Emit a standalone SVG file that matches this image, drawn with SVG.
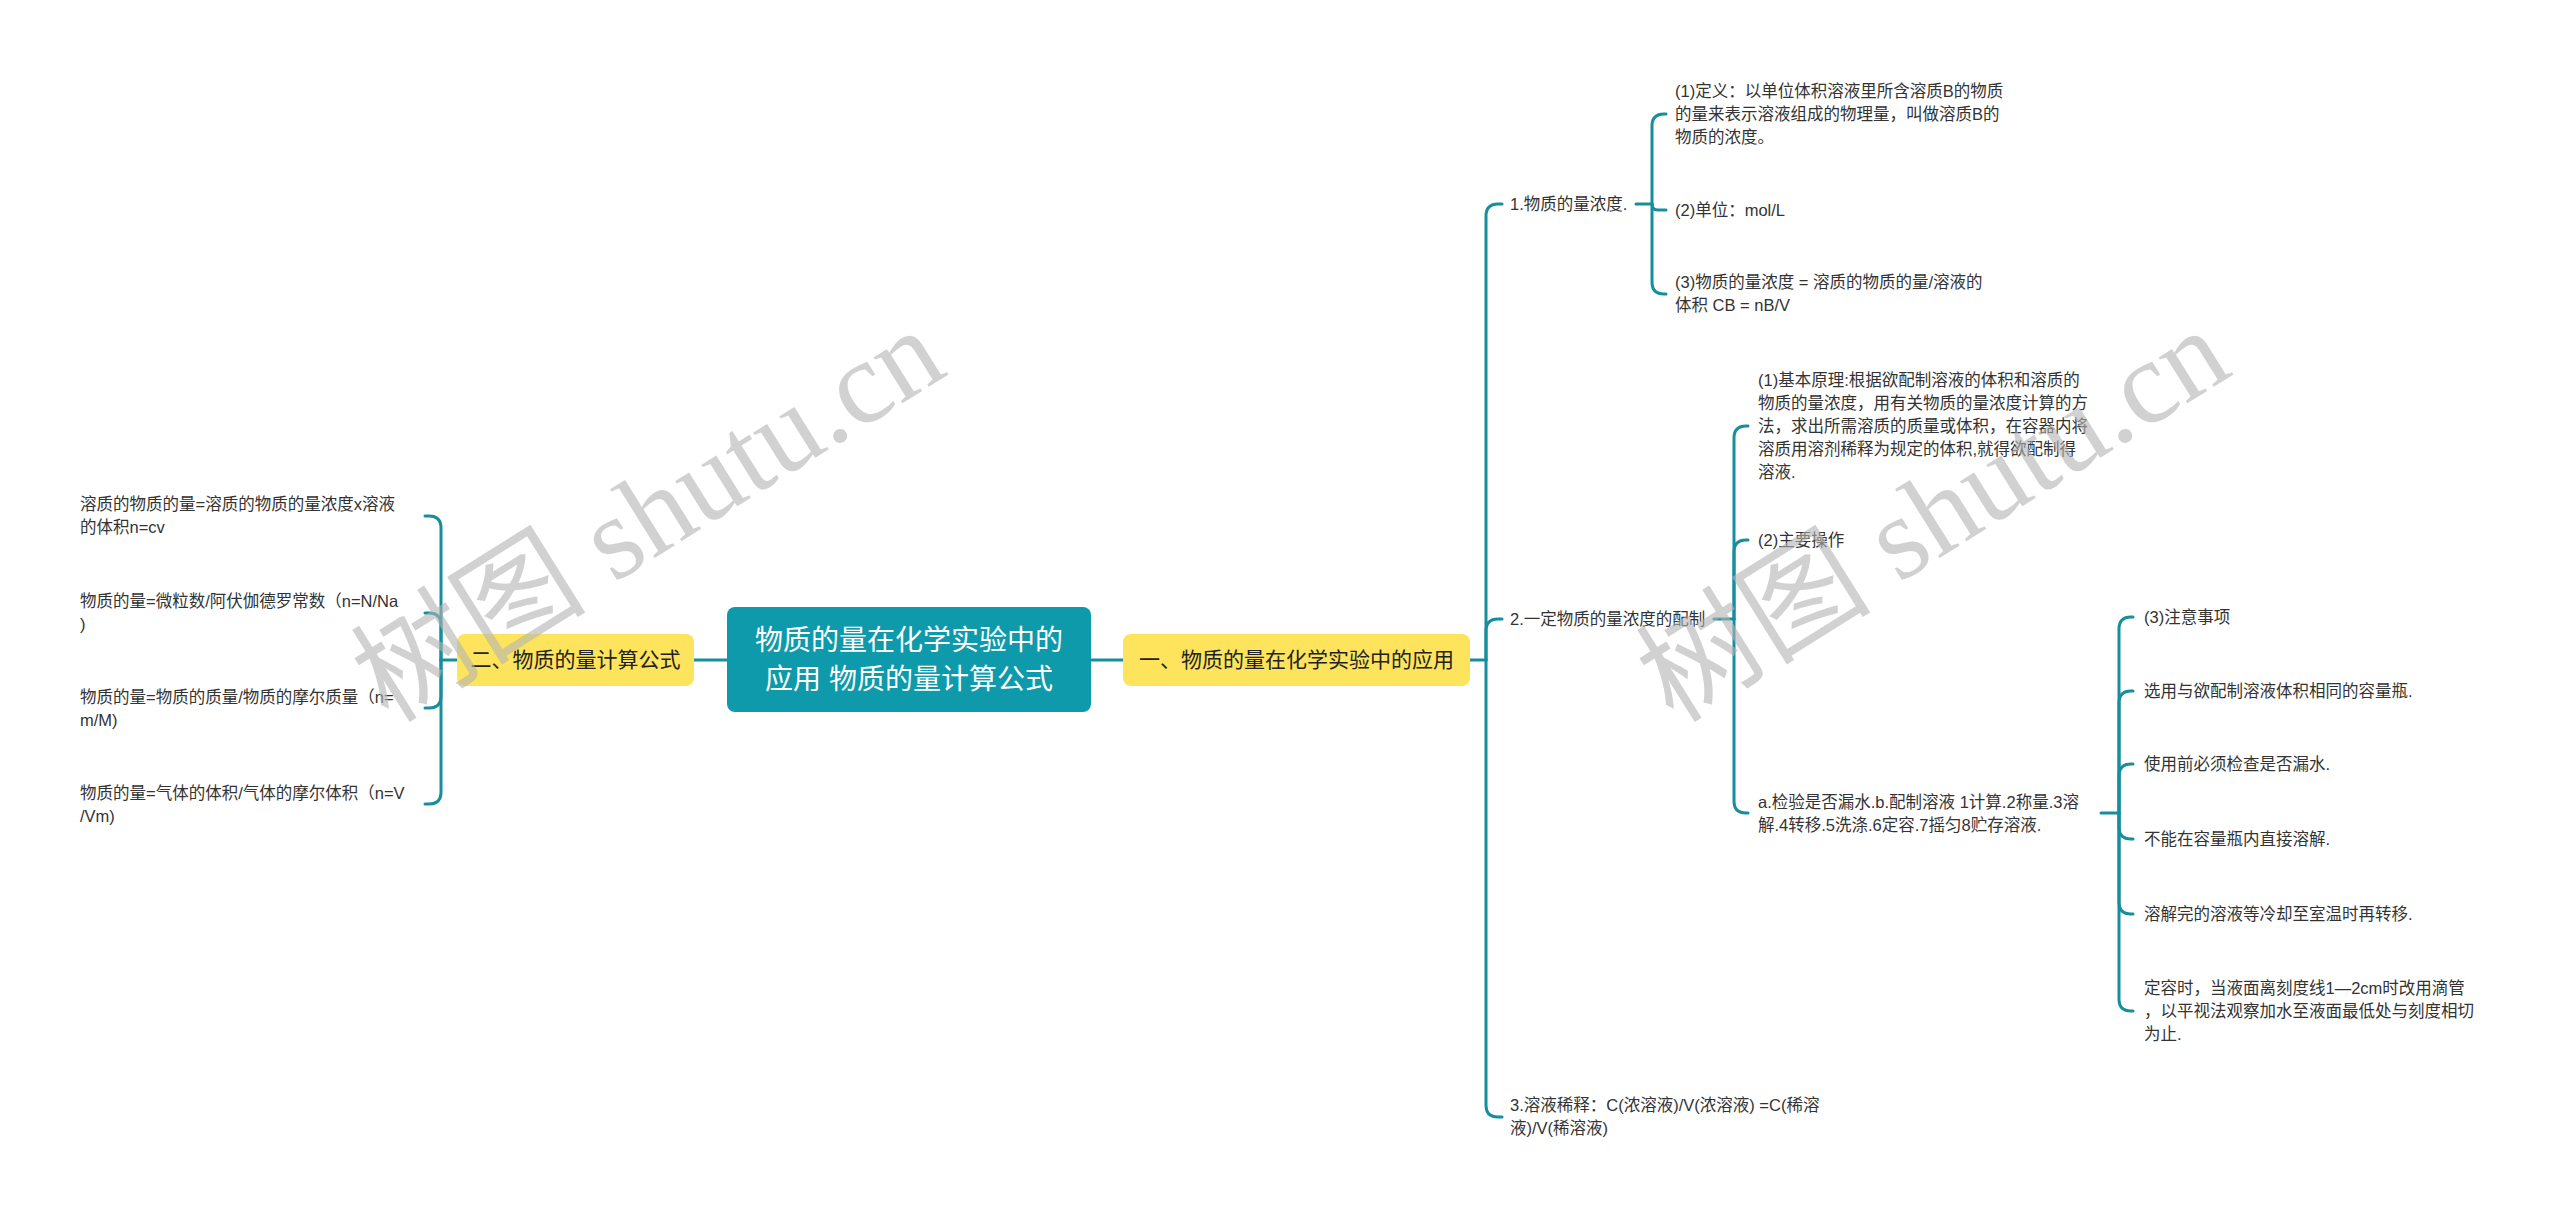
<svg xmlns="http://www.w3.org/2000/svg" width="2560" height="1220" viewBox="0 0 2560 1220">
<style>
.t{font-family:"Liberation Sans","Noto Sans CJK SC",sans-serif;font-size:16.5px;fill:#333}
.n{font-family:"Liberation Sans","Noto Sans CJK SC",sans-serif;font-size:21px;fill:#222}
.r{font-family:"Liberation Sans","Noto Sans CJK SC",sans-serif;font-size:28px;fill:#fff}
.c{fill:none;stroke:#168e9e;stroke-width:3;stroke-linecap:round}
.w{font-family:"Liberation Serif","Noto Sans CJK SC",serif;font-size:118px;fill:#b4b4b4;opacity:0.6}
</style>
<rect width="2560" height="1220" fill="#fff"/>
<g id="connectors">
<path class="c" d="M1091,660 L1123,660"/>
<path class="c" d="M694,660 L727,660"/>
<path class="c" d="M1470,660 L1486,660"/>
<path class="c" d="M1486,660 L1486,216 Q1486,204 1498,204 L1502,204"/>
<path class="c" d="M1486,660 L1486,631 Q1486,619 1498,619 L1502,619"/>
<path class="c" d="M1486,660 L1486,1105 Q1486,1117 1498,1117 L1502,1117"/>
<path class="c" d="M457,660 L441,660"/>
<path class="c" d="M441,660 L441,528 Q441,516 429,516 L425,516"/>
<path class="c" d="M441,660 L441,625 Q441,613 429,613 L425,613"/>
<path class="c" d="M441,660 L441,696 Q441,708 429,708 L425,708"/>
<path class="c" d="M441,660 L441,792 Q441,804 429,804 L425,804"/>
<path class="c" d="M1636,204 L1652,204"/>
<path class="c" d="M1652,204 L1652,126 Q1652,114 1664,114 L1666,114"/>
<path class="c" d="M1652,204 Q1652,210 1658,210 L1666,210"/>
<path class="c" d="M1652,204 L1652,282 Q1652,294 1664,294 L1666,294"/>
<path class="c" d="M1714,619 L1734,619"/>
<path class="c" d="M1734,619 L1734,438 Q1734,426 1746,426 L1748,426"/>
<path class="c" d="M1734,619 L1734,552 Q1734,540 1746,540 L1748,540"/>
<path class="c" d="M1734,619 L1734,801 Q1734,813 1746,813 L1748,813"/>
<path class="c" d="M2101,813 L2119,813"/>
<path class="c" d="M2119,813 L2119,629 Q2119,617 2131,617 L2133,617"/>
<path class="c" d="M2119,813 L2119,703 Q2119,691 2131,691 L2133,691"/>
<path class="c" d="M2119,813 L2119,776 Q2119,764 2131,764 L2133,764"/>
<path class="c" d="M2119,813 L2119,827 Q2119,839 2131,839 L2133,839"/>
<path class="c" d="M2119,813 L2119,902 Q2119,914 2131,914 L2133,914"/>
<path class="c" d="M2119,813 L2119,999 Q2119,1011 2131,1011 L2133,1011"/>
</g>
<g id="root">
<rect x="727" y="607" width="364" height="105" rx="8" fill="#0e9aaa"/>
<text class="r" x="909" y="650" text-anchor="middle">物质的量在化学实验中的</text>
<text class="r" x="909" y="689" text-anchor="middle">应用 物质的量计算公式</text>
</g>
<g id="n1">
<rect x="1123" y="634" width="347" height="52" rx="8" fill="#fde45c"/>
<text class="n" x="1296.5" y="667" text-anchor="middle">一、物质的量在化学实验中的应用</text>
</g>
<g id="n2">
<rect x="457" y="634" width="237" height="52" rx="8" fill="#fde45c"/>
<text class="n" x="575.5" y="667" text-anchor="middle">二、物质的量计算公式</text>
</g>
<g id="l1"><text class="t" x="80" y="510">溶质的物质的量=溶质的物质的量浓度x溶液</text><text class="t" x="80" y="533">的体积n=cv</text></g>
<g id="l2"><text class="t" x="80" y="607">物质的量=微粒数/阿伏伽德罗常数（n=N/Na</text><text class="t" x="80" y="630">)</text></g>
<g id="l3"><text class="t" x="80" y="703">物质的量=物质的质量/物质的摩尔质量（n=</text><text class="t" x="80" y="726">m/M)</text></g>
<g id="l4"><text class="t" x="80" y="799">物质的量=气体的体积/气体的摩尔体积（n=V</text><text class="t" x="80" y="822">/Vm)</text></g>
<g id="a1"><text class="t" x="1510" y="210">1.物质的量浓度.</text></g>
<g id="a2"><text class="t" x="1510" y="625">2.一定物质的量浓度的配制</text></g>
<g id="a3"><text class="t" x="1510" y="1111">3.溶液稀释：C(浓溶液)/V(浓溶液) =C(稀溶</text><text class="t" x="1510" y="1134">液)/V(稀溶液)</text></g>
<g id="a1-1"><text class="t" x="1675" y="97">(1)定义：以单位体积溶液里所含溶质B的物质</text><text class="t" x="1675" y="120">的量来表示溶液组成的物理量，叫做溶质B的</text><text class="t" x="1675" y="143">物质的浓度。</text></g>
<g id="a1-2"><text class="t" x="1675" y="216">(2)单位：mol/L</text></g>
<g id="a1-3"><text class="t" x="1675" y="288">(3)物质的量浓度 = 溶质的物质的量/溶液的</text><text class="t" x="1675" y="311">体积 CB = nB/V</text></g>
<g id="a2-1"><text class="t" x="1758" y="386">(1)基本原理:根据欲配制溶液的体积和溶质的</text><text class="t" x="1758" y="409">物质的量浓度，用有关物质的量浓度计算的方</text><text class="t" x="1758" y="432">法，求出所需溶质的质量或体积，在容器内将</text><text class="t" x="1758" y="455">溶质用溶剂稀释为规定的体积,就得欲配制得</text><text class="t" x="1758" y="478">溶液.</text></g>
<g id="a2-2"><text class="t" x="1758" y="546">(2)主要操作</text></g>
<g id="a2-3"><text class="t" x="1758" y="808">a.检验是否漏水.b.配制溶液 1计算.2称量.3溶</text><text class="t" x="1758" y="831">解.4转移.5洗涤.6定容.7摇匀8贮存溶液.</text></g>
<g id="c1"><text class="t" x="2144" y="623">(3)注意事项</text></g>
<g id="c2"><text class="t" x="2144" y="697">选用与欲配制溶液体积相同的容量瓶.</text></g>
<g id="c3"><text class="t" x="2144" y="770">使用前必须检查是否漏水.</text></g>
<g id="c4"><text class="t" x="2144" y="845">不能在容量瓶内直接溶解.</text></g>
<g id="c5"><text class="t" x="2144" y="920">溶解完的溶液等冷却至室温时再转移.</text></g>
<g id="c6"><text class="t" x="2144" y="994">定容时，当液面离刻度线1—2cm时改用滴管</text><text class="t" x="2144" y="1017">，以平视法观察加水至液面最低处与刻度相切</text><text class="t" x="2144" y="1040">为止.</text></g>
<g id="watermark">
<text class="w" x="648" y="555" text-anchor="middle" transform="rotate(-32 648 515)">树图 shutu.cn</text>
<text class="w" x="1933" y="555" text-anchor="middle" transform="rotate(-32 1933 515)">树图 shutu.cn</text>
</g>
</svg>
